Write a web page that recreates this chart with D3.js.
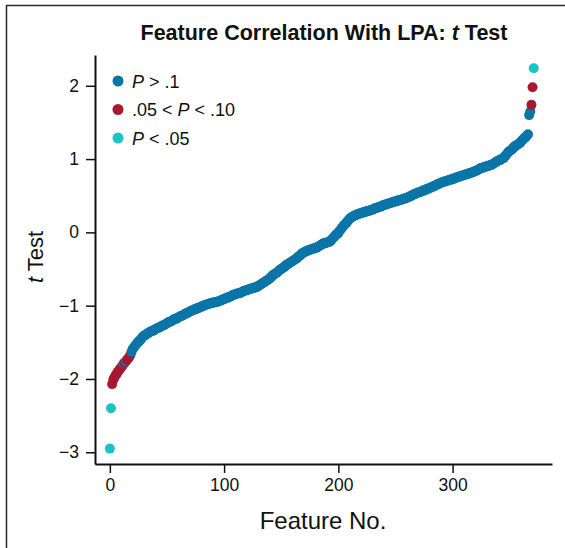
<!DOCTYPE html>
<html>
<head>
<meta charset="utf-8">
<script src="https://cdn.jsdelivr.net/npm/d3@7"></script>
<style>
  body { margin: 0; background: #fff; }
  svg { display: block; font-family: "Liberation Sans", Arial, sans-serif; }
</style>
</head>
<body>
<div id="container"></div>
<script>
// t statistic per feature, sorted ascending (feature no. = index)
var tValues = [
  -2.95, -2.40, -2.07, -2.01, -1.98, -1.95, -1.93, -1.90, -1.88, -1.86,
  -1.84, -1.82, -1.79, -1.78, -1.76, -1.74, -1.72, -1.70, -1.67, -1.63,
  -1.59, -1.57, -1.55, -1.53, -1.51, -1.49, -1.48, -1.46, -1.44, -1.42,
  -1.41, -1.40, -1.39, -1.38, -1.37, -1.36, -1.35, -1.35, -1.34, -1.33,
  -1.32, -1.31, -1.30, -1.30, -1.29, -1.28, -1.27, -1.27, -1.26, -1.25,
  -1.24, -1.23, -1.22, -1.22, -1.21, -1.20, -1.19, -1.18, -1.18, -1.17,
  -1.16, -1.15, -1.14, -1.14, -1.13, -1.12, -1.11, -1.10, -1.10, -1.09,
  -1.08, -1.07, -1.07, -1.06, -1.05, -1.05, -1.04, -1.03, -1.03, -1.02,
  -1.01, -1.01, -1.00, -0.99, -0.99, -0.98, -0.98, -0.97, -0.97, -0.96,
  -0.96, -0.96, -0.95, -0.95, -0.95, -0.94, -0.94, -0.93, -0.92, -0.92,
  -0.91, -0.90, -0.90, -0.89, -0.88, -0.88, -0.87, -0.86, -0.85, -0.85,
  -0.84, -0.84, -0.83, -0.83, -0.83, -0.82, -0.81, -0.80, -0.80, -0.79,
  -0.79, -0.78, -0.78, -0.77, -0.77, -0.76, -0.76, -0.75, -0.75, -0.74,
  -0.73, -0.72, -0.71, -0.70, -0.69, -0.68, -0.67, -0.66, -0.65, -0.64,
  -0.63, -0.61, -0.60, -0.58, -0.57, -0.56, -0.55, -0.54, -0.52, -0.51,
  -0.50, -0.49, -0.48, -0.47, -0.45, -0.44, -0.43, -0.42, -0.41, -0.40,
  -0.39, -0.38, -0.37, -0.36, -0.35, -0.33, -0.32, -0.31, -0.29, -0.28,
  -0.27, -0.26, -0.26, -0.25, -0.24, -0.24, -0.23, -0.23, -0.22, -0.22,
  -0.21, -0.21, -0.20, -0.19, -0.18, -0.17, -0.16, -0.15, -0.15, -0.14,
  -0.14, -0.13, -0.13, -0.12, -0.10, -0.08, -0.07, -0.05, -0.03, -0.02,
  -0.01, 0.02, 0.04, 0.06, 0.08, 0.10, 0.11, 0.13, 0.15, 0.17,
  0.19, 0.20, 0.21, 0.22, 0.23, 0.23, 0.24, 0.25, 0.25, 0.26,
  0.26, 0.27, 0.27, 0.28, 0.28, 0.29, 0.29, 0.30, 0.30, 0.31,
  0.31, 0.32, 0.33, 0.33, 0.34, 0.34, 0.35, 0.35, 0.36, 0.37,
  0.37, 0.38, 0.38, 0.39, 0.39, 0.40, 0.40, 0.41, 0.41, 0.42,
  0.42, 0.43, 0.43, 0.44, 0.44, 0.45, 0.45, 0.46, 0.46, 0.47,
  0.47, 0.48, 0.49, 0.49, 0.50, 0.51, 0.52, 0.52, 0.53, 0.54,
  0.54, 0.55, 0.55, 0.56, 0.57, 0.57, 0.58, 0.59, 0.59, 0.60,
  0.61, 0.61, 0.62, 0.63, 0.63, 0.64, 0.65, 0.66, 0.66, 0.67,
  0.68, 0.68, 0.69, 0.69, 0.70, 0.70, 0.71, 0.71, 0.72, 0.72,
  0.73, 0.73, 0.74, 0.75, 0.75, 0.76, 0.76, 0.77, 0.77, 0.78,
  0.78, 0.79, 0.79, 0.80, 0.80, 0.81, 0.81, 0.82, 0.82, 0.83,
  0.84, 0.84, 0.85, 0.86, 0.87, 0.88, 0.88, 0.89, 0.89, 0.90,
  0.90, 0.91, 0.91, 0.92, 0.92, 0.93, 0.94, 0.95, 0.96, 0.97,
  0.98, 0.98, 0.99, 1.00, 1.01, 1.02, 1.04, 1.06, 1.08, 1.10,
  1.11, 1.12, 1.13, 1.15, 1.17, 1.18, 1.19, 1.20, 1.21, 1.22,
  1.24, 1.26, 1.27, 1.29, 1.30, 1.32, 1.34, 1.60, 1.65, 1.74,
  1.98, 2.24
];
// features with .05 < P < .10 and P < .05 (all others P > .1)
var redIdx = [2, 3, 4, 5, 6, 7, 8, 9, 10, 11, 13, 15, 16, 17, 18, 369, 370];
var cyanIdx = [0, 1, 371];

var xTicks = [0, 100, 200, 300];
var yTicks = [-3, -2, -1, 0, 1, 2];

var legendKeys = [
  { key: "blue", parts: [["P", true], [" > .1", false]] },
  { key: "red", parts: [[".05 < ", false], ["P", true], [" < .10", false]] },
  { key: "cyan", parts: [["P", true], [" < .05", false]] }
];

var color = { blue: "#0b75a8", red: "#a8182f", cyan: "#19c4c4" };

var width = 565;
var height = 548;

var svg = d3.select("#container")
  .append("svg")
  .attr("width", width)
  .attr("height", height);

// outer frame (cut by the image on right and bottom)
svg.append("path")
  .attr("d", "M6.5," + height + "V5.5H" + width)
  .attr("fill", "none")
  .attr("stroke", "#2a2a2a")
  .attr("stroke-width", 1.5);

var xScale = d3.scaleLinear().domain([-13, 387]).range([95, 552]);
var yScale = d3.scaleLinear().domain([-3.16, 2.42]).range([464, 55]);

var data = tValues.map(function (t, i) {
  var cls = "blue";
  if (redIdx.indexOf(i) >= 0) cls = "red";
  if (cyanIdx.indexOf(i) >= 0) cls = "cyan";
  return { feature: i, t: t, cls: cls };
});

// title
var title = svg.append("text")
  .attr("x", 324)
  .attr("y", 40)
  .attr("text-anchor", "middle")
  .attr("font-size", "21.5px")
  .attr("font-weight", "bold")
  .attr("fill", "#111")
  .text("Feature Correlation With LPA: ");
title.append("tspan").attr("font-style", "italic").text("t");
title.append("tspan").text(" Test");

// axes
var xAxis = svg.append("g")
  .attr("transform", "translate(0,464)")
  .call(d3.axisBottom(xScale).tickValues(xTicks).tickSize(9).tickPadding(6).tickSizeOuter(0));

var yAxis = svg.append("g")
  .attr("transform", "translate(95,0)")
  .call(d3.axisLeft(yScale).tickValues(yTicks).tickSize(9).tickPadding(7).tickSizeOuter(0)
    .tickFormat(function (d) { return d < 0 ? "\u2212" + Math.abs(d) : d; }));

[xAxis, yAxis].forEach(function (ax) {
  ax.select(".domain").attr("stroke", "#111").attr("stroke-width", 2);
  ax.selectAll(".tick line").attr("stroke", "#111").attr("stroke-width", 1.5);
  ax.selectAll(".tick text")
    .attr("fill", "#111")
    .attr("font-size", "17.5px")
    .attr("font-family", "Liberation Sans, Arial, sans-serif");
});

// axis titles
svg.append("text")
  .attr("x", 323)
  .attr("y", 529)
  .attr("text-anchor", "middle")
  .attr("font-size", "24px")
  .attr("fill", "#111")
  .text("Feature No.");

var yLab = svg.append("text")
  .attr("transform", "translate(43,257) rotate(-90)")
  .attr("text-anchor", "middle")
  .attr("font-size", "22px")
  .attr("fill", "#111");
yLab.append("tspan").attr("font-style", "italic").text("t");
yLab.append("tspan").text(" Test");

// points
svg.append("g")
  .selectAll("circle")
  .data(data)
  .enter()
  .append("circle")
  .attr("cx", function (d) { return xScale(d.feature); })
  .attr("cy", function (d) { return yScale(d.t); })
  .attr("r", 5)
  .attr("fill", function (d) { return color[d.cls]; });

// legend
var legend = svg.selectAll(".legend")
  .data(legendKeys)
  .enter()
  .append("g")
  .attr("class", "legend")
  .attr("transform", function (d, i) { return "translate(118," + (81 + i * 28.5) + ")"; });

legend.append("circle")
  .attr("r", 5.5)
  .attr("fill", function (d) { return color[d.key]; });

var lt = legend.append("text")
  .attr("x", 14)
  .attr("y", 6.5)
  .attr("font-size", "18px")
  .attr("fill", "#111");
lt.selectAll("tspan")
  .data(function (d) { return d.parts; })
  .enter()
  .append("tspan")
  .attr("font-style", function (p) { return p[1] ? "italic" : "normal"; })
  .text(function (p) { return p[0]; });
</script>
</body>
</html>
